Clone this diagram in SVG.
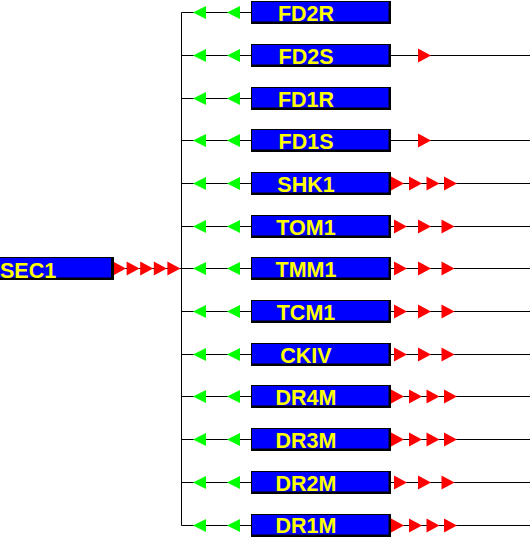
<svg xmlns="http://www.w3.org/2000/svg" width="530" height="537" viewBox="0 0 530 537">
<style>
.ln{stroke:#000;stroke-width:1;fill:none}
.bx{fill:#0000ff;stroke:#000;stroke-width:1}
.sh{fill:#000}
.tx{font-family:"Liberation Sans",Arial,sans-serif;font-weight:bold;font-size:21.5px;fill:#ffff00;text-anchor:middle}
</style>
<defs>
<polygon id="rt" points="0,-7 13,0 0,7" fill="#ff0000"/>
<polygon id="lt" points="0,0 13,-6.5 13,6.5" fill="#00ff00"/>
</defs>
<rect width="530" height="537" fill="#fff"/>
<g id="connectors">
<path class="ln" d="M181.5,12.5V525.5"/>
<path class="ln" d="M113,268.5H181.5"/>
<path class="ln" d="M181.5,12.5H251M181.5,55.5H251M181.5,98.5H251M181.5,140.5H251M181.5,183.5H251M181.5,226.5H251M181.5,268.5H251M181.5,311.5H251M181.5,354.5H251M181.5,396.5H251M181.5,439.5H251M181.5,482.5H251M181.5,525.5H251"/>
<path class="ln" d="M391,55.5H530M391,140.5H530M391,183.5H530M391,226.5H530M391,268.5H530M391,311.5H530M391,354.5H530M391,396.5H530M391,439.5H530M391,482.5H530M391,525.5H530"/>
<g id="sec1-arrows">
<use href="#rt" x="113" y="268.5"/><use href="#rt" x="126.6" y="268.5"/><use href="#rt" x="140.2" y="268.5"/><use href="#rt" x="153.8" y="268.5"/><use href="#rt" x="167.4" y="268.5"/>
</g>
<g id="green-arrows">
<use href="#lt" x="193" y="12.5"/><use href="#lt" x="227" y="12.5"/>
<use href="#lt" x="193" y="55.5"/><use href="#lt" x="227" y="55.5"/>
<use href="#lt" x="193" y="98.5"/><use href="#lt" x="227" y="98.5"/>
<use href="#lt" x="193" y="140.5"/><use href="#lt" x="227" y="140.5"/>
<use href="#lt" x="193" y="183.5"/><use href="#lt" x="227" y="183.5"/>
<use href="#lt" x="193" y="226.5"/><use href="#lt" x="227" y="226.5"/>
<use href="#lt" x="193" y="268.5"/><use href="#lt" x="227" y="268.5"/>
<use href="#lt" x="193" y="311.5"/><use href="#lt" x="227" y="311.5"/>
<use href="#lt" x="193" y="354.5"/><use href="#lt" x="227" y="354.5"/>
<use href="#lt" x="193" y="396.5"/><use href="#lt" x="227" y="396.5"/>
<use href="#lt" x="193" y="439.5"/><use href="#lt" x="227" y="439.5"/>
<use href="#lt" x="193" y="482.5"/><use href="#lt" x="227" y="482.5"/>
<use href="#lt" x="193" y="525.5"/><use href="#lt" x="227" y="525.5"/>
</g>
<g id="red-arrows">
<use href="#rt" x="418" y="55.5"/>
<use href="#rt" x="418" y="140.5"/>
<use href="#rt" x="391" y="183.5"/><use href="#rt" x="409" y="183.5"/><use href="#rt" x="426.5" y="183.5"/><use href="#rt" x="444" y="183.5"/>
<use href="#rt" x="394" y="226.5"/><use href="#rt" x="418" y="226.5"/><use href="#rt" x="441.5" y="226.5"/>
<use href="#rt" x="394" y="268.5"/><use href="#rt" x="418" y="268.5"/><use href="#rt" x="441.5" y="268.5"/>
<use href="#rt" x="394" y="311.5"/><use href="#rt" x="418" y="311.5"/><use href="#rt" x="441.5" y="311.5"/>
<use href="#rt" x="394" y="354.5"/><use href="#rt" x="418" y="354.5"/><use href="#rt" x="441.5" y="354.5"/>
<use href="#rt" x="391" y="396.5"/><use href="#rt" x="409" y="396.5"/><use href="#rt" x="426.5" y="396.5"/><use href="#rt" x="444" y="396.5"/>
<use href="#rt" x="391" y="439.5"/><use href="#rt" x="409" y="439.5"/><use href="#rt" x="426.5" y="439.5"/><use href="#rt" x="444" y="439.5"/>
<use href="#rt" x="394" y="482.5"/><use href="#rt" x="418" y="482.5"/><use href="#rt" x="441.5" y="482.5"/>
<use href="#rt" x="391" y="525.5"/><use href="#rt" x="409" y="525.5"/><use href="#rt" x="426.5" y="525.5"/><use href="#rt" x="444" y="525.5"/>
</g>
</g>
<g id="SEC1">
<rect class="sh" x="0" y="257" width="114" height="23"/>
<rect class="bx" x="-1" y="257.5" width="112.5" height="20.5"/>
<text class="tx" x="0" y="277.5" style="text-anchor:start">SEC1</text>
</g>
<g id="FD2R"><rect class="sh" x="251" y="1" width="140" height="23"/><rect class="bx" x="251.5" y="1.5" width="137.5" height="20.5"/><text class="tx" x="306" y="21">FD2R</text></g>
<g id="FD2S"><rect class="sh" x="251" y="44" width="140" height="23"/><rect class="bx" x="251.5" y="44.5" width="137.5" height="20.5"/><text class="tx" x="306" y="64">FD2S</text></g>
<g id="FD1R"><rect class="sh" x="251" y="87" width="140" height="23"/><rect class="bx" x="251.5" y="87.5" width="137.5" height="20.5"/><text class="tx" x="306" y="107">FD1R</text></g>
<g id="FD1S"><rect class="sh" x="251" y="129" width="140" height="23"/><rect class="bx" x="251.5" y="129.5" width="137.5" height="20.5"/><text class="tx" x="306" y="149">FD1S</text></g>
<g id="SHK1"><rect class="sh" x="251" y="172" width="140" height="23"/><rect class="bx" x="251.5" y="172.5" width="137.5" height="20.5"/><text class="tx" x="306" y="192">SHK1</text></g>
<g id="TOM1"><rect class="sh" x="251" y="215" width="140" height="23"/><rect class="bx" x="251.5" y="215.5" width="137.5" height="20.5"/><text class="tx" x="306" y="235">TOM1</text></g>
<g id="TMM1"><rect class="sh" x="251" y="257" width="140" height="23"/><rect class="bx" x="251.5" y="257.5" width="137.5" height="20.5"/><text class="tx" x="306" y="277">TMM1</text></g>
<g id="TCM1"><rect class="sh" x="251" y="300" width="140" height="23"/><rect class="bx" x="251.5" y="300.5" width="137.5" height="20.5"/><text class="tx" x="306" y="320">TCM1</text></g>
<g id="CKIV"><rect class="sh" x="251" y="343" width="140" height="23"/><rect class="bx" x="251.5" y="343.5" width="137.5" height="20.5"/><text class="tx" x="306" y="363">CKIV</text></g>
<g id="DR4M"><rect class="sh" x="251" y="385" width="140" height="23"/><rect class="bx" x="251.5" y="385.5" width="137.5" height="20.5"/><text class="tx" x="306" y="405">DR4M</text></g>
<g id="DR3M"><rect class="sh" x="251" y="428" width="140" height="23"/><rect class="bx" x="251.5" y="428.5" width="137.5" height="20.5"/><text class="tx" x="306" y="448">DR3M</text></g>
<g id="DR2M"><rect class="sh" x="251" y="471" width="140" height="23"/><rect class="bx" x="251.5" y="471.5" width="137.5" height="20.5"/><text class="tx" x="306" y="491">DR2M</text></g>
<g id="DR1M"><rect class="sh" x="251" y="514" width="140" height="23"/><rect class="bx" x="251.5" y="514.5" width="137.5" height="20.5"/><text class="tx" x="306" y="532.5">DR1M</text></g>
</svg>
